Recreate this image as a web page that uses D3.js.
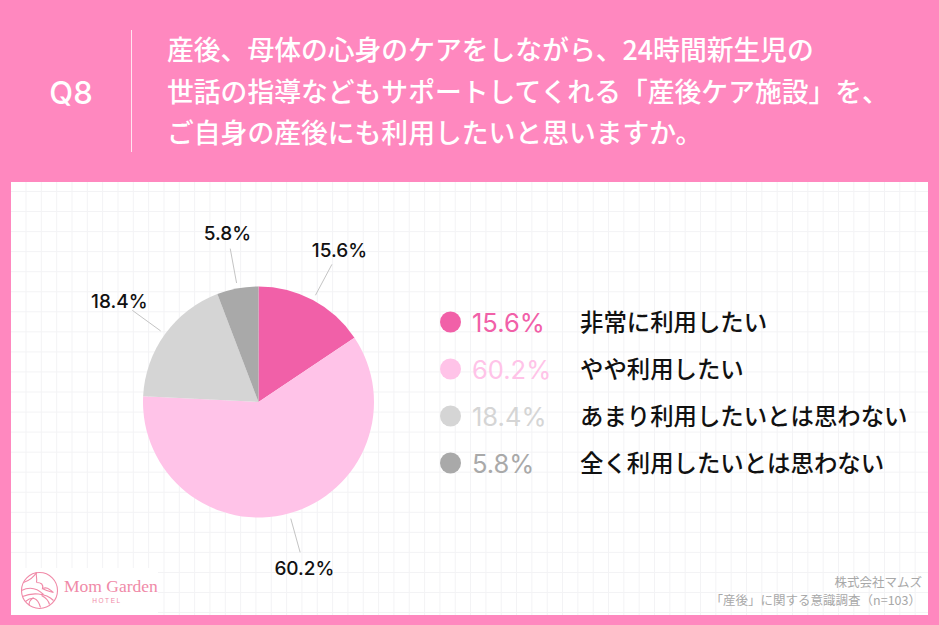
<!DOCTYPE html>
<html>
<head>
<meta charset="utf-8">
<script src="https://cdn.jsdelivr.net/npm/d3@7"></script>
<style>
html,body{margin:0;padding:0;background:#ff88bf;}
svg{display:block;}
text{font-family:"Noto Sans CJK JP",sans-serif;}
.num{font-family:Inter,"Liberation Sans",sans-serif;}
</style>
</head>
<body>
<div id="chart"></div>
<script>
// chart data
var categories = ["非常に利用したい","やや利用したい","あまり利用したいとは思わない","全く利用したいとは思わない"];
var values = [15.6,60.2,18.4,5.8];
var colors = ["#f160a8","#ffc3e8","#d5d5d5","#a9a9a9"];
var titleLines = ["産後、母体の心身のケアをしながら、24時間新生児の","世話の指導などもサポートしてくれる「産後ケア施設」を、","ご自身の産後にも利用したいと思いますか。"];
var footLines = ["株式会社マムズ","「産後」に関する意識調査（n=103）"];

var width = 939, height = 625;
var cx = 258.5, cy = 402, radius = 115.5;

var svg = d3.select("#chart").append("svg")
    .attr("width", width)
    .attr("height", height);

svg.append("rect").attr("width", width).attr("height", height).attr("fill", "#ff88bf");

// white panel with the faint grid
var panel = {x:11, y:182, w:917, h:433};
svg.append("rect")
    .attr("x", panel.x).attr("y", panel.y)
    .attr("width", panel.w).attr("height", panel.h)
    .attr("fill", "#fff");

var grid = svg.append("g").attr("stroke", "#f3f3f5").attr("stroke-width", 1);
d3.range(26, panel.x + panel.w, 15.33).forEach(function(x){
  grid.append("line").attr("x1", x).attr("x2", x).attr("y1", panel.y).attr("y2", panel.y + panel.h);
});
d3.range(191.5, panel.y + panel.h, 20.05).forEach(function(y){
  grid.append("line").attr("x1", panel.x).attr("x2", panel.x + panel.w).attr("y1", y).attr("y2", y);
});

// header
svg.append("text").attr("class", "num")
    .attr("x", 71).attr("y", 104)
    .attr("text-anchor", "middle")
    .attr("fill", "#fff")
    .style("font-size", "31px").style("font-weight", 500)
    .text("Q8");

svg.append("line")
    .attr("x1", 131.5).attr("x2", 131.5).attr("y1", 30).attr("y2", 152)
    .attr("stroke", "#ffe3f0").attr("stroke-width", 1);

svg.selectAll(".title").data(titleLines).enter().append("text")
    .attr("class", "title")
    .attr("x", 167)
    .attr("y", function(d, i){ return 60 + i * 41.5; })
    .attr("fill", "#fff")
    .style("font-size", "26.8px").style("font-weight", 500)
    .text(function(d){ return d; });

// pie
var pie = d3.pie().sort(null).value(function(d){ return d; });
var arcs = pie(values);
var arc = d3.arc().innerRadius(0).outerRadius(radius);

var g = svg.append("g").attr("transform", "translate(" + cx + "," + cy + ")");

g.selectAll("path").data(arcs).enter().append("path")
    .attr("d", arc)
    .attr("fill", function(d, i){ return colors[i]; });

function polar(d, r){
  var a = (d.startAngle + d.endAngle) / 2;
  return [Math.sin(a) * r, -Math.cos(a) * r];
}

// leader lines and outer labels
g.selectAll(".leader").data(arcs).enter().append("line")
    .attr("class", "leader")
    .attr("x1", function(d){ return polar(d, 121)[0]; })
    .attr("y1", function(d){ return polar(d, 121)[1]; })
    .attr("x2", function(d){ return polar(d, 156)[0]; })
    .attr("y2", function(d){ return polar(d, 156)[1]; })
    .attr("stroke", "#c4c4c4").attr("stroke-width", 1);

g.selectAll(".lab").data(arcs).enter().append("text")
    .attr("class", "lab num")
    .attr("x", function(d){ return polar(d, 172)[0]; })
    .attr("y", function(d){ return polar(d, 172)[1] + 7; })
    .attr("text-anchor", "middle")
    .attr("fill", "#111")
    .style("font-size", "19px").style("font-weight", 500)
    .text(function(d){ return d.value.toFixed(1) + "%"; });

// legend
var legendY = d3.scalePoint().domain(d3.range(categories.length)).range([322, 463]);

var leg = svg.selectAll(".leg").data(categories).enter().append("g").attr("class", "leg");
leg.append("circle")
    .attr("cx", 450.5)
    .attr("cy", function(d, i){ return legendY(i); })
    .attr("r", 10.5)
    .attr("fill", function(d, i){ return colors[i]; });
leg.append("text").attr("class", "num")
    .attr("x", 472)
    .attr("y", function(d, i){ return legendY(i) + 9.5; })
    .attr("fill", function(d, i){ return colors[i]; })
    .style("font-size", "25.5px").style("font-weight", 400)
    .text(function(d, i){ return values[i].toFixed(1) + "%"; });
leg.append("text")
    .attr("x", 580)
    .attr("y", function(d, i){ return legendY(i) + 9; })
    .attr("fill", "#111")
    .style("font-size", "23.4px").style("font-weight", 500)
    .text(function(d){ return d; });

// source note
svg.selectAll(".foot").data(footLines).enter().append("text")
    .attr("class", "foot")
    .attr("x", function(d, i){ return i == 0 ? 922 : 921; })
    .attr("y", function(d, i){ return 587 + i * 18; })
    .attr("text-anchor", "end")
    .attr("fill", "#a8a8a8")
    .style("font-size", "12.5px")
    .text(function(d){ return d; });

// logo
var logo = svg.append("g");
logo.append("rect").attr("x", 11).attr("y", 568).attr("width", 147).attr("height", 47).attr("fill", "#fff");
var mark = logo.append("g").attr("transform", "translate(39.5,590.5)")
    .attr("fill", "none").attr("stroke", "#f08aa8").attr("stroke-width", 1.1);
mark.append("circle").attr("r", 18);
mark.append("path").attr("d", "M-16,-8 C-10,-10 -6,-13 -3,-18 M-3,-8 C-2,-12 -4,-15 -3,-18 M-3,-8 C2,-8 4,-6 3,-2 C8,-4 10,-1 14,2 M3,-2 C6,0 10,1 14,2");
mark.append("path").attr("d", "M-18,0 C-10,-4 -2,-2 4,4 M-17,6 C-8,2 6,2 14,10 M-14,11 C-8,6 -2,6 1,17 M-6,7 C-10,10 -11,13 -10,15 M2,5 C6,7 9,10 10,14");

logo.append("text")
    .attr("x", 64).attr("y", 592)
    .attr("fill", "#f08aa8")
    .style("font-family", "'Liberation Serif',serif")
    .style("font-size", "17.5px")
    .text("Mom Garden");
logo.append("text")
    .attr("x", 107).attr("y", 602.5)
    .attr("text-anchor", "middle")
    .attr("fill", "#f08aa8")
    .style("font-family", "'Liberation Sans',sans-serif")
    .style("font-size", "6.5px")
    .style("letter-spacing", "1.6px")
    .text("HOTEL");
</script>
</body>
</html>
